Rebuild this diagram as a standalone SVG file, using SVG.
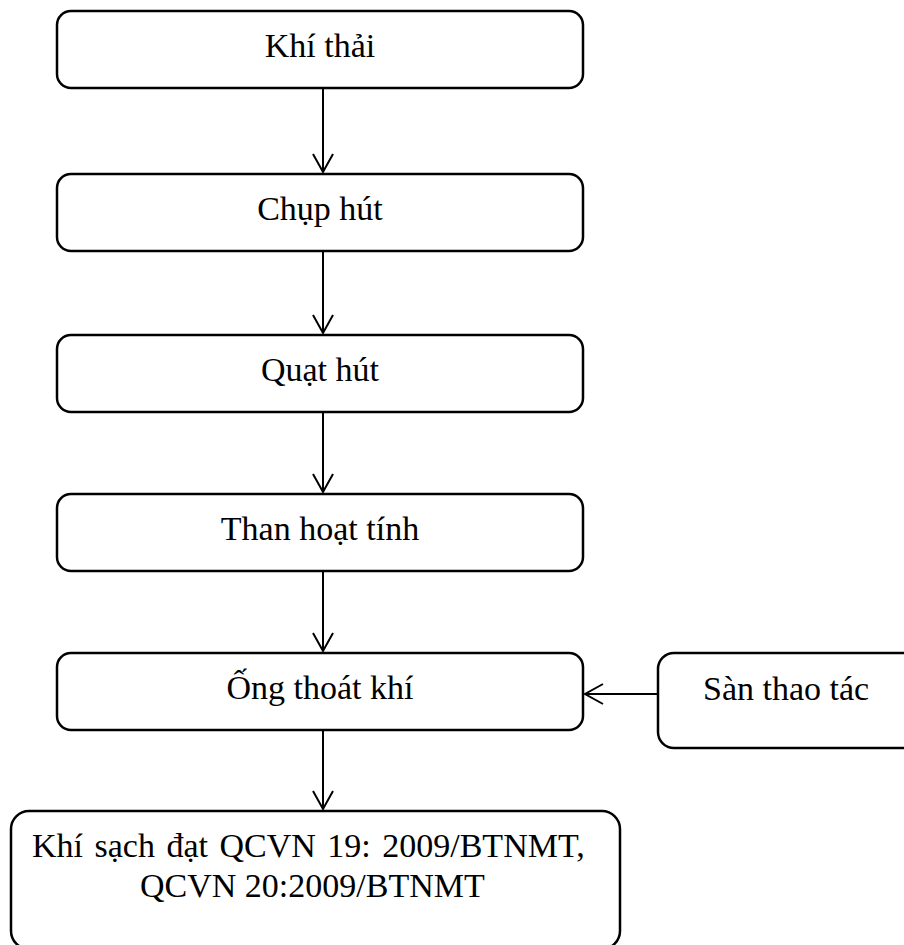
<svg xmlns="http://www.w3.org/2000/svg" width="904" height="945" viewBox="0 0 904 945">
  <style>
    .box { fill: #ffffff; stroke: #000000; stroke-width: 2.5; }
    .lbl { font-family: "Liberation Serif", "Times New Roman", serif; font-size: 34px; fill: #000000; }
    .mid { text-anchor: middle; }
    .link { fill: none; stroke: #000000; stroke-width: 2; }
  </style>
  <defs>
    <marker id="head" markerWidth="22" markerHeight="24" refX="19" refY="11" orient="auto" markerUnits="userSpaceOnUse">
      <path d="M1,1 L19,11 L1,21" fill="none" stroke="#000000" stroke-width="2"/>
    </marker>
  </defs>
  <rect width="904" height="945" fill="#ffffff"/>

  <g id="khi-thai">
    <rect class="box" x="57" y="11" width="526" height="77" rx="14"/>
    <text class="lbl mid" x="320" y="57">Khí thải</text>
  </g>
  <g id="chup-hut">
    <rect class="box" x="57" y="174" width="526" height="77" rx="14"/>
    <text class="lbl mid" x="320" y="220">Chụp hút</text>
  </g>
  <g id="quat-hut">
    <rect class="box" x="57" y="335" width="526" height="77" rx="14"/>
    <text class="lbl mid" x="320" y="381">Quạt hút</text>
  </g>
  <g id="than-hoat-tinh">
    <rect class="box" x="57" y="494" width="526" height="77" rx="14"/>
    <text class="lbl mid" x="320" y="540">Than hoạt tính</text>
  </g>
  <g id="ong-thoat-khi">
    <rect class="box" x="57" y="653" width="526" height="77" rx="14"/>
    <text class="lbl mid" x="320" y="699">Ống thoát khí</text>
  </g>
  <g id="san-thao-tac">
    <rect class="box" x="658" y="653" width="270" height="95" rx="16"/>
    <text class="lbl" x="703" y="700">Sàn thao tác</text>
  </g>
  <g id="khi-sach">
    <rect class="box" x="11" y="811" width="609" height="138" rx="18"/>
    <text class="lbl" x="32" y="857" word-spacing="3">Khí sạch đạt QCVN 19: 2009/BTNMT,</text>
    <text class="lbl" x="140" y="897">QCVN 20:2009/BTNMT</text>
  </g>

  <g id="connectors">
    <line class="link" x1="323" y1="88" x2="323" y2="172" marker-end="url(#head)"/>
    <line class="link" x1="323" y1="251" x2="323" y2="333" marker-end="url(#head)"/>
    <line class="link" x1="323" y1="412" x2="323" y2="492" marker-end="url(#head)"/>
    <line class="link" x1="323" y1="571" x2="323" y2="651" marker-end="url(#head)"/>
    <line class="link" x1="323" y1="730" x2="323" y2="809" marker-end="url(#head)"/>
    <line class="link" x1="658" y1="694" x2="585" y2="694" marker-end="url(#head)"/>
  </g>
</svg>
